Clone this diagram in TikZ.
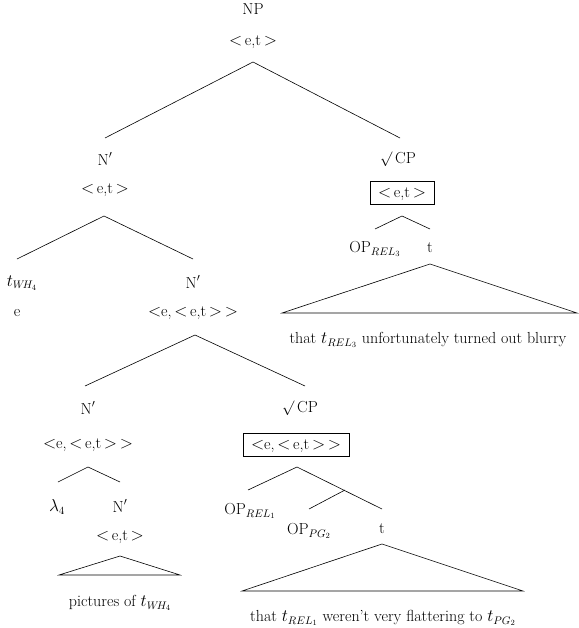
\documentclass[tikz,border=0pt]{standalone}
\usepackage{amsmath}
\begin{document}
\begin{tikzpicture}[x=1pt,y=-1pt,
  lbl/.style={inner sep=0pt,font=\fontsize{16}{19}\selectfont},
  boxed/.style={lbl,draw,line width=0.6pt,inner xsep=8pt,inner ysep=5pt,text height=10.5pt,text depth=2.5pt},
  br/.style={line width=0.6pt}]
\useasboundingbox (0,0) rectangle (578,628);
\newcommand{\ET}{$<$\,e,t\,$>$}
\newcommand{\EET}{$<$e,\,$<$\,e,t\,$>$\,$>$}
\newcommand{\chk}{\raisebox{0.5pt}{\scalebox{0.85}{$\surd$}}\,}
% top
\node[lbl] (np) at (253,9) {NP};
\node[lbl] (npt) at (253,42) {\ET};
\coordinate (a0) at (253,62);
\coordinate (a0l) at (105,138);
\coordinate (a0r) at (400,138);
\draw[br] (a0l) -- (a0) -- (a0r);
% left N'
\node[lbl] (n1) at (105,159) {N$'$};
\node[lbl] (n1t) at (105,190) {\ET};
\coordinate (a1) at (104,216);
\coordinate (a1l) at (17,259);
\coordinate (a1r) at (193,259);
\draw[br] (a1l) -- (a1) -- (a1r);
\node[lbl] (twh) at (22,283) {$t_{W\!H_4}$};
\node[lbl] (e) at (17,313) {e};
\node[lbl] (n2) at (193,282) {N$'$};
\node[lbl] (n2t) at (193,313) {\EET};
\coordinate (a2) at (195,335);
\coordinate (a2l) at (85,386);
\coordinate (a2r) at (305,386);
\draw[br] (a2l) -- (a2) -- (a2r);
% lower left N'
\node[lbl] (n3) at (88,408) {N$'$};
\node[lbl] (n3t) at (88,445) {\EET};
\coordinate (a3) at (88,467);
\coordinate (a3l) at (58,482);
\coordinate (a3r) at (120,482);
\draw[br] (a3l) -- (a3) -- (a3r);
\node[lbl] (lam) at (57,507) {$\lambda_4$};
\node[lbl] (n4) at (120,506) {N$'$};
\node[lbl] (n4t) at (120,537) {\ET};
\coordinate (t4) at (120,556);
\coordinate (t4l) at (59,575);
\coordinate (t4r) at (180,575);
\draw[br] (t4l) -- (t4) -- (t4r) -- cycle;
\node[lbl] (pic) at (120,603) {pictures of $t_{W\!H_4}$};
% lower CP
\node[lbl] (cp2) at (300,408) {\chk CP};
\node[boxed] (cp2t) at (296,445) {\EET};
\coordinate (a5) at (297,467);
\coordinate (a5l) at (248,490);
\coordinate (a5r) at (382,509);
\coordinate (a5m) at (345,490);
\coordinate (a5ml) at (309,509);
\draw[br] (a5l) -- (a5) -- (a5r);
\draw[br] (a5m) -- (a5ml);
\node[lbl] (op1) at (250,511) {OP$_{REL_1}$};
\node[lbl] (op2) at (309,531) {OP$_{PG_2}$};
\node[lbl] (t5) at (382,529) {t};
\coordinate (t5a) at (382,544);
\coordinate (t5l) at (242,591);
\coordinate (t5r) at (523,591);
\draw[br] (t5l) -- (t5a) -- (t5r) -- cycle;
\node[lbl] (s5) at (383,618) {that $t_{REL_1}$ weren't very flattering to $t_{PG_2}$};
% upper CP
\node[lbl] (cp1) at (398,159) {\chk CP};
\node[boxed] (cp1t) at (402,193) {\ET};
\coordinate (a6) at (402,216);
\coordinate (a6l) at (375,229);
\coordinate (a6r) at (430,229);
\draw[br] (a6l) -- (a6) -- (a6r);
\node[lbl] (op3) at (375,249) {OP$_{REL_3}$};
\node[lbl] (t6) at (430,248) {t};
\coordinate (t6a) at (430,264);
\coordinate (t6l) at (282,313);
\coordinate (t6r) at (577,313);
\draw[br] (t6l) -- (t6a) -- (t6r) -- cycle;
\node[lbl] (s6) at (428,340) {that $t_{REL_3}$ unfortunately turned out blurry};
\end{tikzpicture}
\end{document}
